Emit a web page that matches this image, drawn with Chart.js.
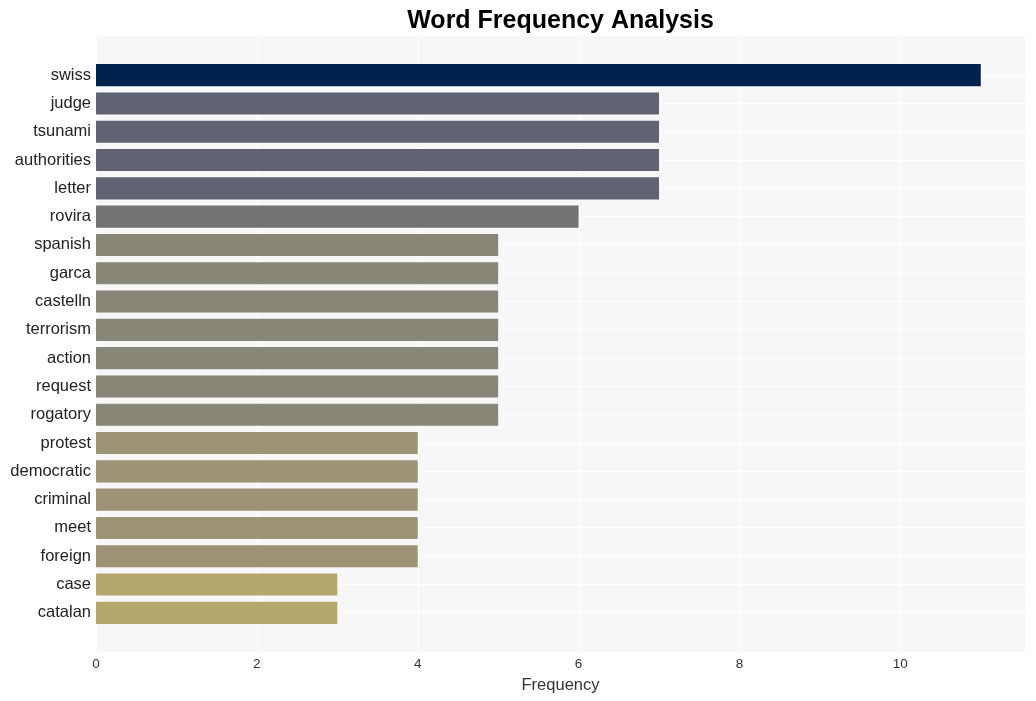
<!DOCTYPE html>
<html lang="en">
<head>
    <meta charset="UTF-8">
    <script src="https://cdn.jsdelivr.net/npm/chart.js@4/dist/chart.umd.min.js"></script>
    <title>Word Frequency Analysis</title>
    <style>
        body { margin: 0; background: #ffffff; }
        #wrap { width: 1036px; height: 701px; }
    </style>
</head>
<body>
    <div id="wrap"><canvas id="freqChart"></canvas></div>

    <script>
        // data
        const words = ["swiss", "judge", "tsunami", "authorities", "letter", "rovira", "spanish", "garca",
            "castelln", "terrorism", "action", "request", "rogatory", "protest", "democratic", "criminal",
            "meet", "foreign", "case", "catalan"]
        const counts = [11, 7, 7, 7, 7, 6, 5, 5, 5, 5, 5, 5, 5, 4, 4, 4, 4, 4, 3, 3]
        const barColors = ["#00224e", "#5f6372", "#5f6372", "#5f6372", "#5f6372", "#737374",
            "#878677", "#878677", "#878677", "#878677", "#878677", "#878677", "#878677",
            "#9c9475", "#9c9475", "#9c9475", "#9c9475", "#9c9475", "#b5a86f", "#b5a86f"]
        const chartTitle = "Word Frequency Analysis"
        const xTitle = "Frequency"

        const font = "'Liberation Sans', Arial, sans-serif"

        // background panel + vertical grid, drawn a bit taller than the bar area
        const panel = {
            id: "panel",
            beforeDraw(chart) {
                const { ctx, chartArea, scales } = chart
                const top = chartArea.top - 25
                const bottom = chartArea.bottom + 25
                ctx.save()
                ctx.fillStyle = "#f7f7f7"
                ctx.fillRect(chartArea.left, top, chartArea.right - chartArea.left, bottom - top)
                ctx.strokeStyle = "#ffffff"
                ctx.lineWidth = 1
                scales.x.ticks.forEach(t => {
                    const x = Math.round(scales.x.getPixelForValue(t.value)) + 0.5
                    ctx.beginPath()
                    ctx.moveTo(x, top)
                    ctx.lineTo(x, bottom)
                    ctx.stroke()
                })
                ctx.restore()
            },
            afterDraw(chart) {
                const { ctx, chartArea } = chart
                ctx.save()
                ctx.fillStyle = "#000000"
                ctx.font = "bold 25px " + font
                ctx.textAlign = "center"
                ctx.textBaseline = "middle"
                ctx.fillText(chartTitle, (chartArea.left + chartArea.right) / 2, 21)
                ctx.restore()
            }
        }

        new Chart("freqChart", {
            type: "bar",
            data: {
                labels: words,
                datasets: [{
                    data: counts,
                    backgroundColor: barColors,
                    barPercentage: 0.78,
                    categoryPercentage: 1
                }]
            },
            options: {
                indexAxis: "y",
                responsive: true,
                maintainAspectRatio: false,
                animation: false,
                layout: { padding: { top: 61, right: 11, bottom: 0, left: 0 } },
                plugins: {
                    legend: { display: false },
                    tooltip: { enabled: false }
                },
                scales: {
                    x: {
                        min: 0,
                        max: 11.55,
                        afterBuildTicks(scale) {
                            scale.ticks = scale.ticks.filter(t => t.value % 2 === 0)
                        },
                        afterFit(scale) { scale.height = 74 },
                        ticks: { stepSize: 2, color: "#333333", padding: 21, font: { size: 13.5, family: font } },
                        grid: { display: false },
                        border: { display: false },
                        title: { display: true, text: xTitle, color: "#333333", padding: { top: 4, bottom: 6 }, font: { size: 16.5, family: font } }
                    },
                    y: {
                        afterFit(scale) { scale.width = 96 },
                        ticks: { color: "#222222", padding: 5, font: { size: 16.5, family: font } },
                        grid: { color: "#ffffff", drawTicks: false, offset: false },
                        border: { display: false }
                    }
                }
            },
            plugins: [panel]
        })
    </script>
</body>
</html>
